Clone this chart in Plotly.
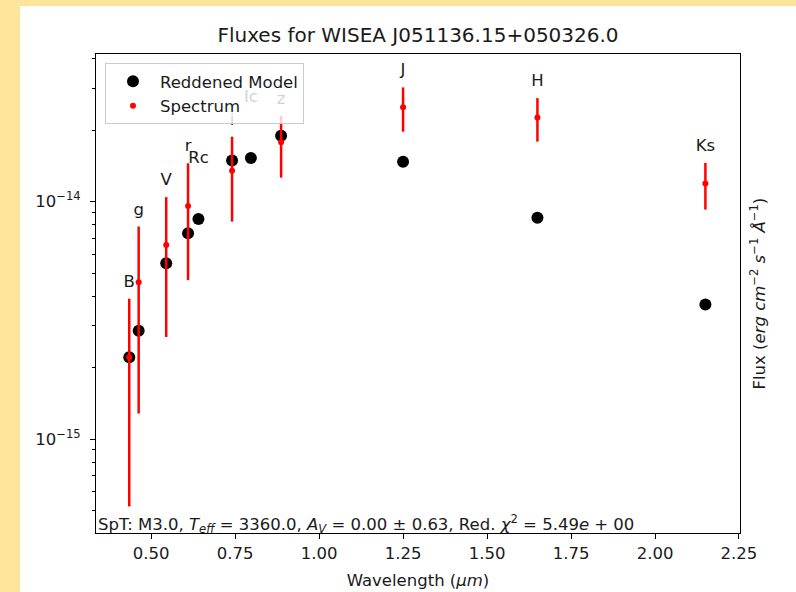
import numpy as np
import plotly.graph_objects as go

# Photometric bands and their effective wavelengths (micron)
bands = ["B", "g", "V", "r", "Rc", "i", "Ic", "z", "J", "H", "Ks"]
wavelength_um = [0.435, 0.463, 0.545, 0.610, 0.641, 0.741, 0.797, 0.887, 1.25, 1.65, 2.15]

# Reddened model fluxes (erg cm^-2 s^-1 A^-1)
model_flux = [2.21e-15, 2.86e-15, 5.50e-15, 7.36e-15, 8.45e-15, 1.489e-14,
              1.528e-14, 1.897e-14, 1.474e-14, 8.56e-15, 3.69e-15]

# Observed photometry with 1-sigma uncertainties (None = no measurement)
spec_flux = [2.21e-15, 4.57e-15, 6.57e-15, 9.59e-15, None, 1.351e-14,
             None, 1.779e-14, 2.50e-14, 2.26e-14, 1.191e-14]
spec_err = [1.69e-15, 3.29e-15, 3.88e-15, 4.92e-15, None, 5.27e-15,
            None, 5.17e-15, 5.3e-15, 4.7e-15, 2.65e-15]

x_ticks = [0.50, 0.75, 1.00, 1.25, 1.50, 1.75, 2.00, 2.25]
y_major = [1e-15, 1e-14]
y_major_text = ["10<sup>\u221215</sup>", "10<sup>\u221214</sup>"]
y_minor = [m * 10.0 ** e for e in (-16, -15, -14) for m in range(2, 10)]

fit_text = ("SpT: M3.0, <i>T</i><sub><i>eff</i></sub> = 3360.0, "
            "<i>A</i><sub><i>V</i></sub> = 0.00 \u00b1 0.63, "
            "Red. <i>\u03c7</i><sup>2</sup> = 5.49<i>e</i> + 00")

# Figure geometry
W, H = 796, 592
ML, MR, MT, MB = 96, 56, 54, 59
plot_w, plot_h = W - ML - MR, H - MT - MB
x_range = [0.336, 2.253]
y_range = [-15.396, -13.378]
px_per_decade = plot_h / (y_range[1] - y_range[0])

FONT = "DejaVu Sans"
FS = 16.5

# Band labels sit above the error bar, or above the model point when
# no measurement exists
label_y = []
for m, f, e in zip(model_flux, spec_flux, spec_err):
    if f is not None:
        label_y.append(np.log10(f + e) + 16 / px_per_decade)
    else:
        label_y.append(np.log10(m) + 60 / px_per_decade)
label_y = [10 ** v for v in label_y]

fig = go.Figure()

fig.add_trace(go.Scatter(
    x=wavelength_um, y=model_flux, mode="markers", name="Reddened Model",
    marker=dict(color="black", size=12, line=dict(width=0)),
))

fig.add_trace(go.Scatter(
    x=wavelength_um, y=spec_flux, mode="markers", name="Spectrum",
    marker=dict(color="red", size=6, line=dict(width=0)),
    error_y=dict(type="data", array=spec_err, visible=True,
                 color="red", thickness=2.5, width=0),
))

fig.add_trace(go.Scatter(
    x=wavelength_um, y=label_y, mode="text", text=bands,
    textposition="middle center", showlegend=False, hoverinfo="skip",
    textfont=dict(family=FONT, size=FS, color="#1a1a1a"),
))

axis_common = dict(
    showline=True, linecolor="black", linewidth=1, mirror=True,
    ticks="outside", ticklen=5, tickwidth=1, tickcolor="black",
    showgrid=False, zeroline=False, automargin=False,
    tickfont=dict(family=FONT, size=FS, color="#1a1a1a"),
)

fig.update_layout(
    width=W, height=H,
    margin=dict(l=ML, r=MR, t=MT, b=MB),
    paper_bgcolor="rgb(255,228,155)",
    plot_bgcolor="white",
    font=dict(family=FONT, size=FS, color="#1a1a1a"),
    title=dict(text="Fluxes for WISEA J051136.15+050326.0",
               x=0.5, xref="paper", xanchor="center",
               y=1 - 35 / H, yanchor="middle",
               font=dict(family=FONT, size=20, color="#1a1a1a")),
    xaxis=dict(range=x_range, tickvals=x_ticks, tickformat=".2f",
               title=dict(text="Wavelength (<i>\u03bcm</i>)",
                          font=dict(family=FONT, size=FS), standoff=12),
               **axis_common),
    yaxis=dict(type="log", range=y_range, tickvals=y_major,
               ticktext=y_major_text, ticklabelstandoff=6,
               minor=dict(tickvals=y_minor, ticks="outside", ticklen=3,
                          tickwidth=1, tickcolor="black"),
               **axis_common),
    legend=dict(x=(105 - ML) / plot_w, y=(H - MB - 63) / plot_h,
                xanchor="left", yanchor="top", itemwidth=44,
                bgcolor="rgba(255,255,255,0.8)", bordercolor="#cccccc",
                borderwidth=1, font=dict(family=FONT, size=FS)),
    showlegend=True,
    shapes=[dict(type="rect", xref="paper", yref="paper",
                 x0=(20 - ML) / plot_w, x1=(W - ML) / plot_w,
                 y0=-(MB) / plot_h, y1=(H - MB - 6) / plot_h,
                 fillcolor="white", line=dict(width=0), layer="below")],
    annotations=[
        dict(text=fit_text, xref="paper", yref="paper", x=0, y=0,
             xanchor="left", yanchor="bottom", yshift=-5, showarrow=False,
             font=dict(family=FONT, size=FS, color="#1a1a1a")),
        dict(text="Flux (<i>erg</i> <i>cm</i><sup>\u22122</sup> "
                  "<i>s</i><sup>\u22121</sup> <i>\u00c5</i><sup>\u22121</sup>)",
             xref="paper", yref="paper", x=(758 - ML) / plot_w, y=0.5,
             xanchor="center", yanchor="middle", textangle=-90,
             showarrow=False,
             font=dict(family=FONT, size=FS, color="#1a1a1a")),
    ],
)

fig.write_html("out.html")
